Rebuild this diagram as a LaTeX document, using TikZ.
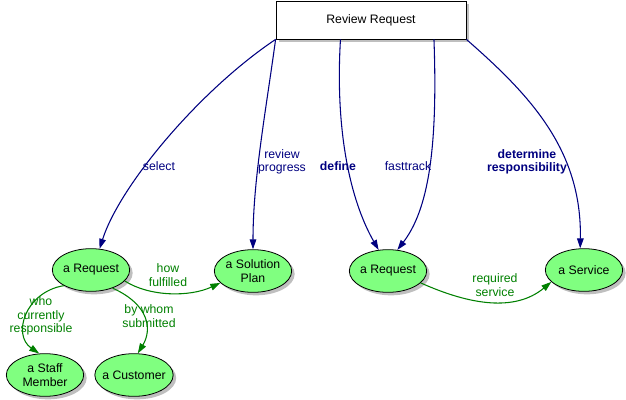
\documentclass[tikz,border=0pt]{standalone}
\usepackage{fontspec}
\setmainfont{Liberation Sans}
\usetikzlibrary{shapes.geometric,shadows,arrows.meta,calc}
\definecolor{navyline}{RGB}{0,0,128}
\definecolor{greenline}{RGB}{0,128,0}
\definecolor{conceptfill}{RGB}{128,255,128}
\newcommand{\labelfont}{\fontsize{9.2}{10.2}\selectfont}
\newcommand{\linkto}[5][blueedge]{
  % curved link between two concepts
  \draw[#1] (#2) .. controls (#3) and (#4) .. (#5);
}
\tikzset{
  boxshadow/.style={drop shadow={shadow xshift=2.25pt, shadow yshift=-2.25pt, fill=black!25, opacity=1}},
  concept/.style={ellipse, draw, line width=0.6pt, fill=conceptfill, minimum width=58pt, minimum height=32pt, inner sep=-3pt, align=center, boxshadow},
  topbox/.style={rectangle, draw, line width=0.6pt, fill=white, minimum width=142.5pt, minimum height=28.5pt, boxshadow},
  blueedge/.style={draw=navyline, line width=0.8pt, -{Triangle[length=7.5pt,width=5pt]}},
  greenedge/.style={draw=greenline, line width=0.8pt, -{Triangle[length=7.5pt,width=5pt]}},
  bluelabel/.style={text=navyline, align=center, inner sep=0pt},
  greenlabel/.style={text=greenline, align=center, inner sep=0pt}
}
\begin{document}
\begin{tikzpicture}[x=0.75pt, y=-0.75pt, font=\labelfont]
	\useasboundingbox (0,0) rectangle (626,400);
	\node[topbox] (review) at (371,20) {Review Request};
	\node[concept] (req1) at (91,270) {a Request};
	\node[concept] (plan) at (253,271) {a Solution\\Plan};
	\node[concept] (staff) at (45,375) {a Staff\\Member};
	\node[concept] (cust) at (134,375) {a Customer};
	\node[concept] (req2) at (388,271) {a Request};
	\node[concept] (service) at (584,270) {a Service};
	
	\linkto{review.south west}{200,90}{120,185}{req1.68};
	\linkto{review.south west}{266,110}{253,180}{plan.north};
	\linkto{$(review.south west)!0.34!(review.south east)$}{335,130}{350,200}{req2.114};
	\linkto{$(review.south west)!0.83!(review.south east)$}{438,150}{428,210}{req2.66};
	\linkto{review.south east}{530,95}{582,150}{service.100};
	
	\linkto[greenedge]{req1.-18}{150,297}{190,297}{plan.200};
	\linkto[greenedge]{req1.210}{25,292}{12,335}{staff.105};
	\linkto[greenedge]{req1.-40}{150,305}{152,330}{cust.80};
	\linkto[greenedge]{req2.-20}{470,305}{515,312}{service.200};
	
	\node[bluelabel] (lselect) at (159,166) {select};
	\node[bluelabel] (lprogress) at (282,162) {review\\progress};
	\node[bluelabel, font=\labelfont\bfseries] (ldefine) at (338,166) {define};
	\node[bluelabel] (lfast) at (408,166) {fasttrack};
	\node[bluelabel, font=\labelfont\bfseries] (lresp) at (527,162) {determine\\responsibility};
	\node[greenlabel] (lhow) at (168,275) {how\\fulfilled};
	\node[greenlabel] (lwho) at (41,316) {who\\currently\\responsible};
	\node[greenlabel] (lwhom) at (149,316) {by whom\\submitted};
	\node[greenlabel] (lservice) at (495,285) {required\\service};
\end{tikzpicture}
\end{document}
